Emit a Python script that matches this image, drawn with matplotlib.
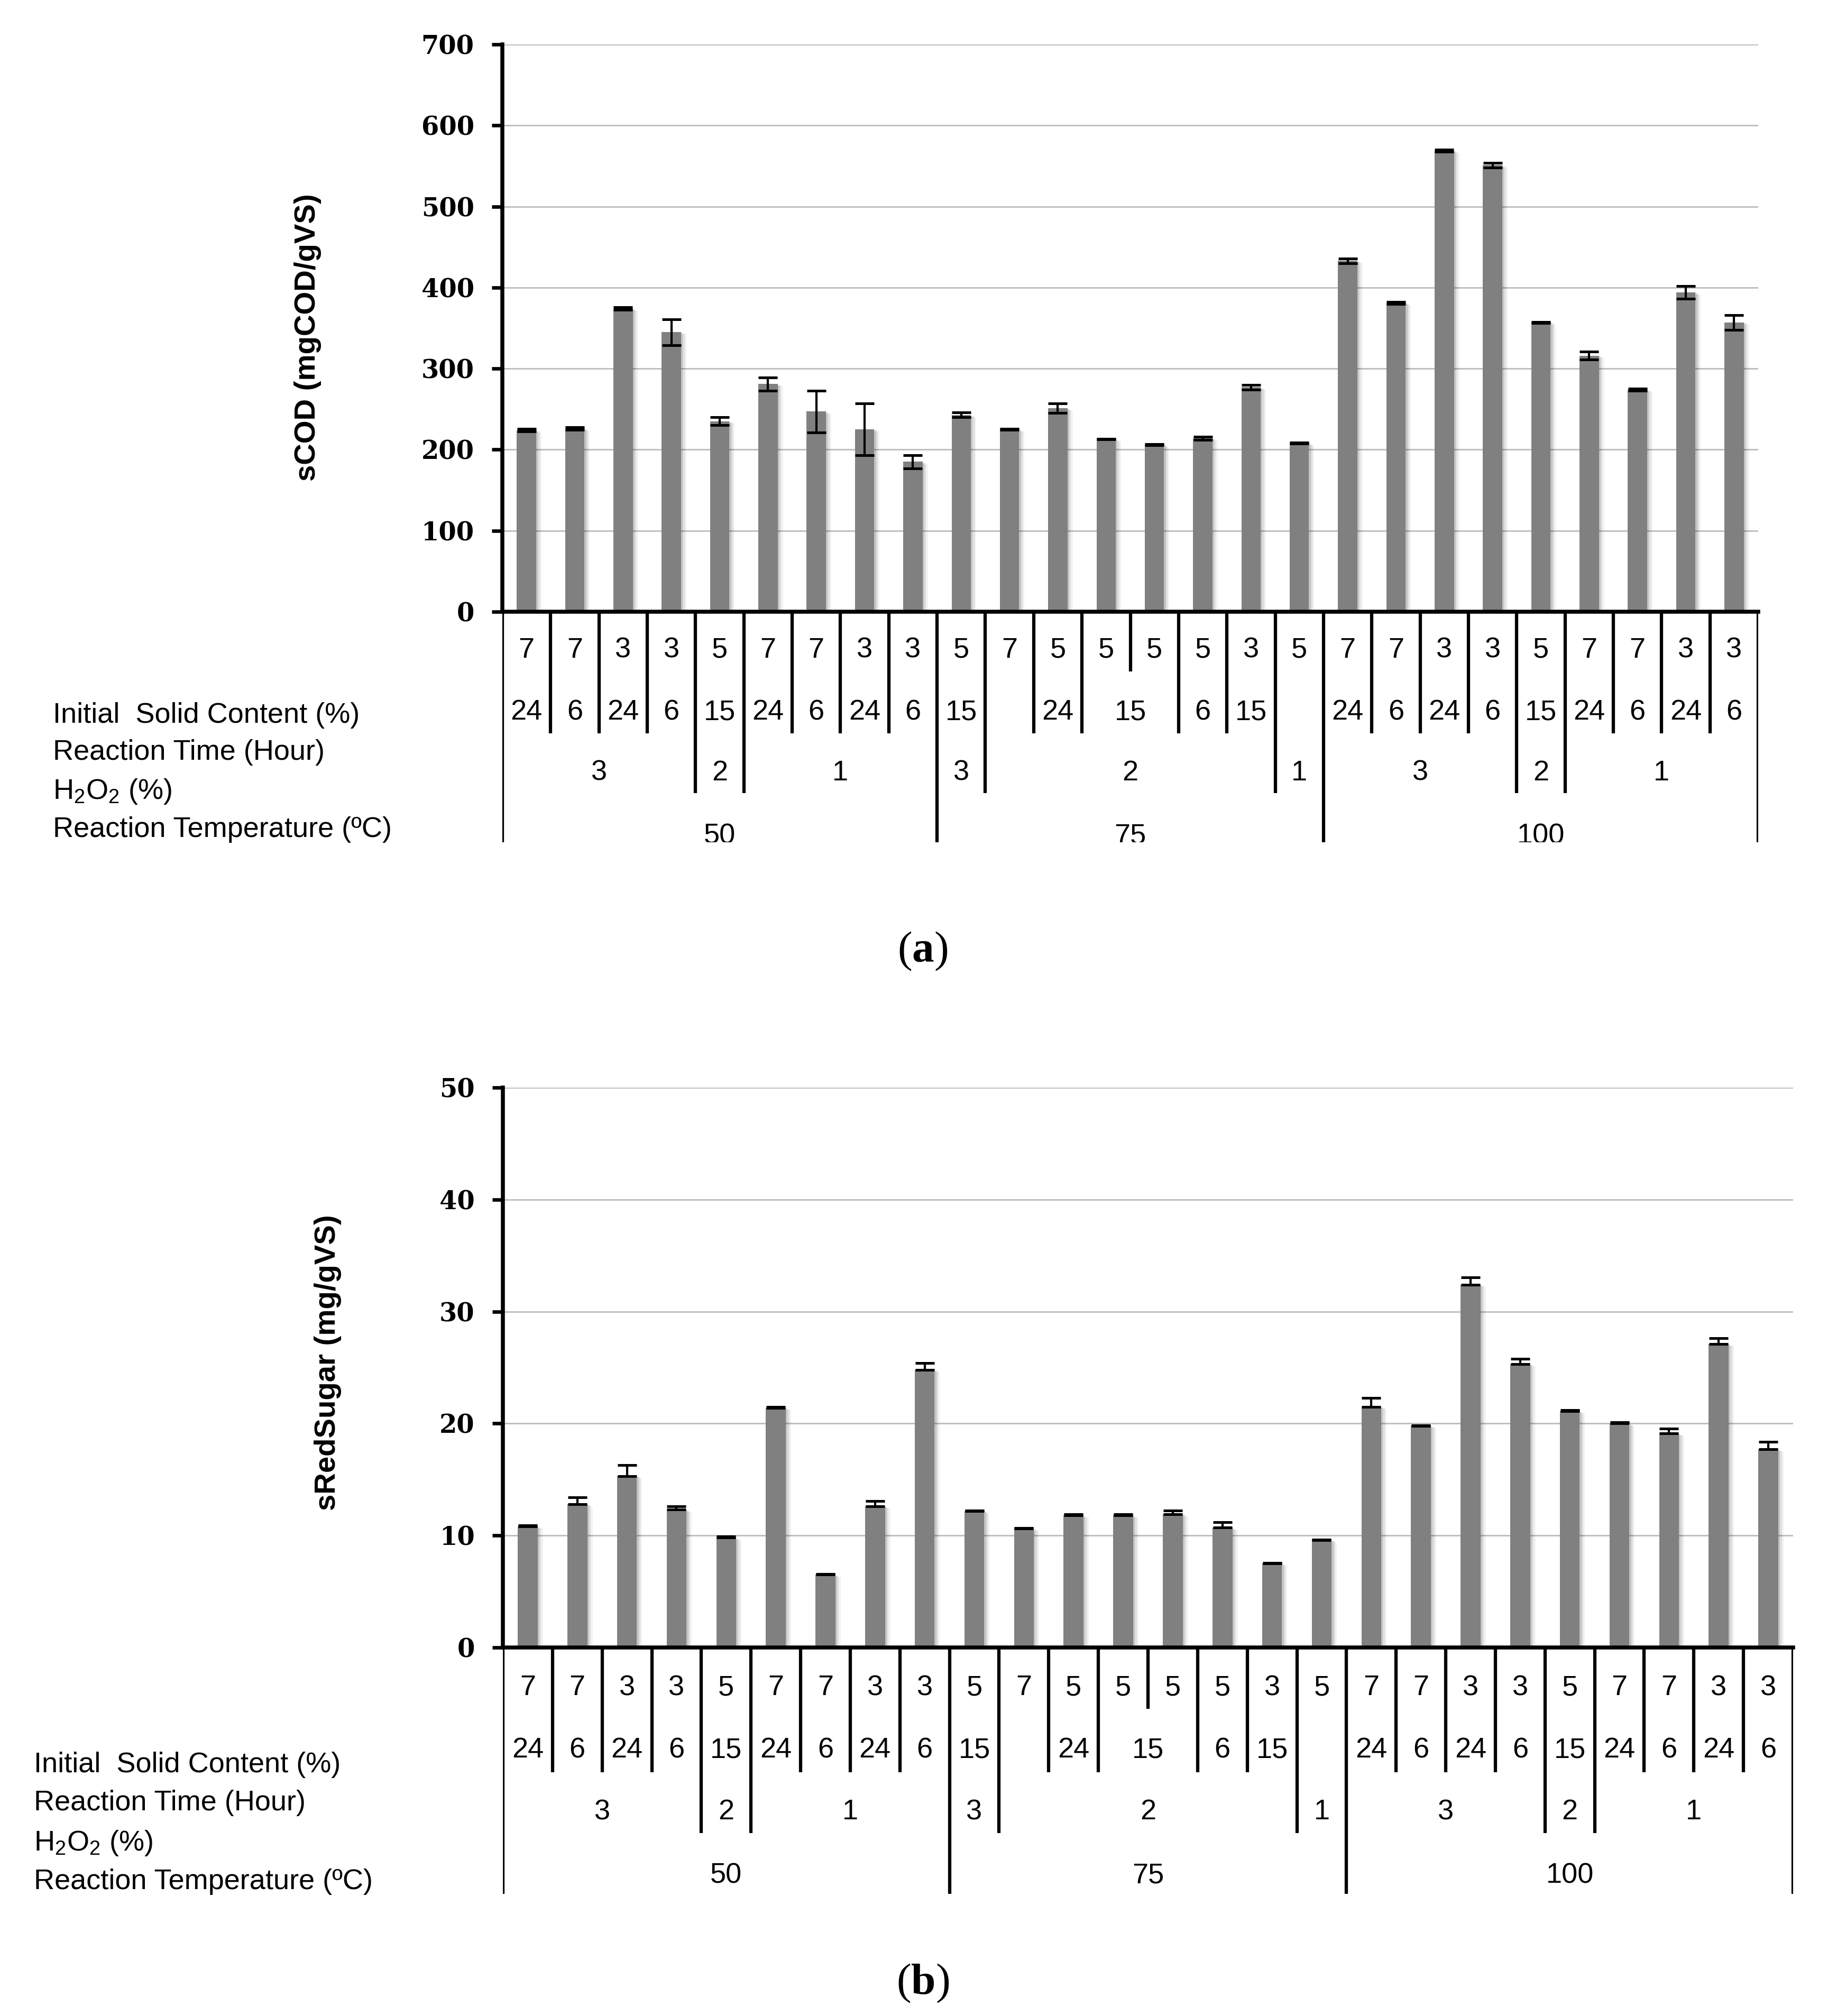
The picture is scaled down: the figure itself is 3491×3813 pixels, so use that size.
"""Pretreatment screening: sCOD and reducing sugar per condition, two panels."""

import matplotlib.pyplot as plt
import matplotlib.patheffects as pe
import numpy as np

# ── data ───────────────────────────────────────────────────────────────────────
solid  = [7, 7, 3, 3, 5, 7, 7, 3, 3, 5, 7, 5, 5, 5, 5, 3, 5, 7, 7, 3, 3, 5, 7, 7, 3, 3]
time_h = [24, 6, 24, 6, 15, 24, 6, 24, 6, 15, None, 24, 15, 15, 6, 15, None,
          24, 6, 24, 6, 15, 24, 6, 24, 6]
h2o2   = [3, 3, 3, 3, 2, 1, 1, 1, 1, 3, 2, 2, 2, 2, 2, 2, 1, 3, 3, 3, 3, 2, 1, 1, 1, 1]
temp   = [50, 50, 50, 50, 50, 50, 50, 50, 50, 75, 75, 75, 75, 75, 75, 75, 75,
          100, 100, 100, 100, 100, 100, 100, 100, 100]

scod     = [224, 226, 374, 345, 235, 281, 247, 225, 185, 243, 225, 251, 213,
            206, 214, 277, 208, 433, 381, 569, 551, 357, 316, 274, 394, 357]
scod_err = [1.5, 1.5, 1.5, 16, 5, 8, 26, 32, 8, 3, 0.5, 6, 0.5,
            0.5, 2, 3, 0.5, 3, 1, 1.5, 3, 0.5, 5, 1.5, 8, 9]

sugar     = [10.8, 12.8, 15.3, 12.3, 9.8, 21.4, 6.5, 12.6, 24.8, 12.2, 10.6, 11.8, 11.8,
             11.9, 10.7, 7.5, 9.6, 21.5, 19.8, 32.4, 25.3, 21.1, 20.0, 19.1, 27.1, 17.7]
sugar_err = [0.1, 0.6, 1.0, 0.3, 0.1, 0.1, 0.05, 0.5, 0.6, 0.05, 0.05, 0.1, 0.1,
             0.35, 0.5, 0.05, 0.05, 0.8, 0.05, 0.65, 0.5, 0.1, 0.1, 0.45, 0.5, 0.65]

row_names = ["Initial  Solid Content (%)", "Reaction Time (Hour)",
             r"H$_\mathregular{2}$O$_\mathregular{2}$ (%)", "Reaction Temperature (ºC)"]

# ── style ──────────────────────────────────────────────────────────────────────
plt.rcParams["mathtext.fontset"] = "custom"
plt.rcParams["mathtext.bf"] = "Liberation Serif:bold"
plt.rcParams["mathtext.rm"] = "Liberation Serif"

W, H, DPI = 3491, 3813, 300
BAR   = "#808080"
GRID  = "#bfbfbf"
SANS  = ["Liberation Sans", "DejaVu Sans"]
TICKF = ["DejaVu Serif"]

fig = plt.figure(figsize=(W / DPI, H / DPI), dpi=DPI)


def px_axes(left, top, right, bottom):
    return fig.add_axes([left / W, 1 - bottom / H, (right - left) / W, (bottom - top) / H])


def boundary_depths(levels):
    n = len(levels[0])
    depths = [4]
    for k in range(1, n):
        d = 1
        for lvl in range(1, 4):
            if levels[lvl][k - 1] != levels[lvl][k]:
                d = lvl + 1
        depths.append(d)
    depths.append(4)
    return depths


def draw_panel(vals, errs, two_sided, ymax, ystep, ylabel, box, tbox,
               line_ends, text_offs, ylab_xy, row_x, row_base, letter, letter_xy):
    n = len(vals)
    x = np.arange(n) + 0.5
    ax = px_axes(*box)
    bars = ax.bar(x, vals, 0.4, color=BAR, zorder=2)
    for b in bars:
        b.set_path_effects([
            pe.SimplePatchShadow(offset=(2.4, -1.0), shadow_rgbFace="k", alpha=0.05),
            pe.SimplePatchShadow(offset=(1.6, -0.6), shadow_rgbFace="k", alpha=0.08),
            pe.SimplePatchShadow(offset=(0.8, -0.3), shadow_rgbFace="k", alpha=0.12),
            pe.Normal()])
    yerr = errs if two_sided else [np.zeros(n), errs]
    ax.errorbar(x, vals, yerr=yerr, fmt="none", ecolor="black", elinewidth=1.0,
                capsize=4.3, capthick=1.2, zorder=3)
    ax.set_xlim(0, n)
    ax.set_ylim(0, ymax)
    ax.set_xticks([])
    ax.set_yticks(np.arange(0, ymax + ystep / 2, ystep))
    ax.yaxis.grid(True, color=GRID, lw=0.7)
    ax.set_axisbelow(True)
    ax.spines[["top", "right"]].set_visible(False)
    ax.spines["left"].set_linewidth(1.8)
    ax.spines["bottom"].set_linewidth(1.8)
    ax.tick_params(axis="y", direction="out", length=4.8, width=1.6, pad=8)
    for t in ax.get_yticklabels():
        t.set_fontfamily(TICKF)
        t.set_fontweight("bold")
        t.set_fontsize(11.5)

    # category table under the axis
    tab = px_axes(*tbox)
    tab.set_xlim(0, n)
    tab.set_ylim(tbox[3] - tbox[1], 0)
    tab.axis("off")
    levels = [solid, time_h, h2o2, temp]
    depths = boundary_depths(levels)
    for k, d in enumerate(depths):
        tab.vlines(k, 0, line_ends[d - 1], color="black", lw=1.5)
    for lvl in range(4):
        start = 0
        for k in range(1, n + 1):
            if k == n or depths[k] > lvl:
                lab = levels[lvl][start]
                if lab is not None:
                    tab.text((start + k) / 2, text_offs[lvl], str(lab), ha="center",
                             va="center", fontsize=13, family=SANS, clip_on=True)
                start = k

    fig.text(ylab_xy[0] / W, 1 - ylab_xy[1] / H, ylabel, rotation=90, ha="center",
             va="center", fontsize=13.5, fontweight="bold", family=SANS)
    for name, yb in zip(row_names, row_base):
        fig.text(row_x / W, 1 - yb / H, name, ha="left", va="baseline",
                 fontsize=13, family=SANS)
    fig.text(letter_xy[0] / W, 1 - letter_xy[1] / H, "(" + r"$\mathbf{" + letter + "}$" + ")",
             ha="center", va="center", fontsize=20, family=["Liberation Serif"])


# ── panel (a): sCOD ────────────────────────────────────────────────────────────
draw_panel(scod, scod_err, True, 700, 100, "sCOD (mgCOD/gVS)",
           box=(950, 84, 3325, 1157), tbox=(950, 1157, 3325, 1593),
           line_ends=[113, 230, 343, 436], text_offs=[73, 190, 305, 424],
           ylab_xy=(582, 638), row_x=100, row_base=[1367, 1437, 1511, 1583],
           letter="a", letter_xy=(1745, 1799))

# ── panel (b): reducing sugar ─────────────────────────────────────────────────
draw_panel(sugar, sugar_err, False, 50, 10, "sRedSugar (mg/gVS)",
           box=(951, 2057, 3391, 3116), tbox=(951, 3116, 3391, 3582),
           line_ends=[116, 236, 351, 466], text_offs=[76, 194, 311, 431],
           ylab_xy=(620, 2577), row_x=64, row_base=[3352, 3424, 3500, 3573],
           letter="b", letter_xy=(1745, 3751))

fig.savefig("out.png", dpi=DPI)
